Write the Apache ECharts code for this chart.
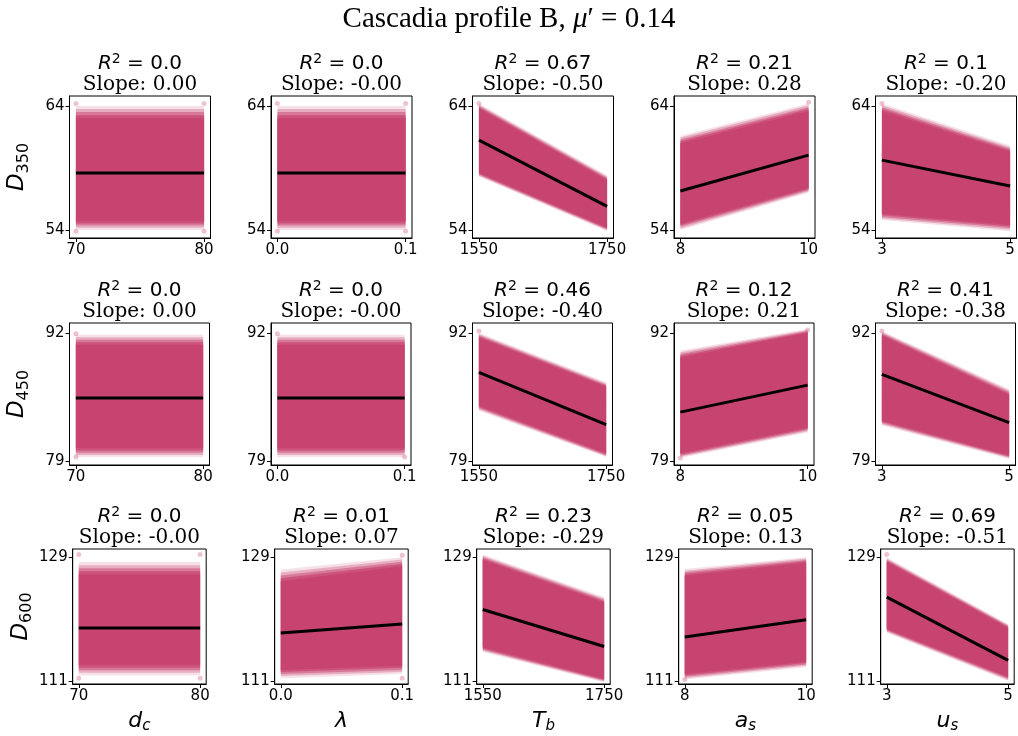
<!DOCTYPE html>
<html>
<head>
<meta charset="utf-8">
<script src="https://cdn.jsdelivr.net/npm/echarts@6/dist/echarts.min.js"></script>
<style>html,body{margin:0;padding:0;background:#fff}#c{width:1018px;height:736px}</style>
</head>
<body>
<div id="c"></div>
<script>
// ---------------- data ----------------
const suptitle = 'Cascadia profile B, ';
const rowNames = ['350', '450', '600'];               // D subscripts
const colNames = ['d', 'λ', 'T', 'a', 'u'];           // x variable symbols
const colSubs  = ['c', '', 'b', 's', 's'];
const xTicks = [[70, 80], [0, 0.1], [1550, 1750], [8, 10], [3, 5]];
const xTickLabels = [['70', '80'], ['0.0', '0.1'], ['1550', '1750'], ['8', '10'], ['3', '5']];
const yTicks = [[54, 64], [79, 92], [111, 129]];
const yRanges = [[53.35, 64.8], [78.6, 93.0], [110.55, 130.2]];
const r2Values = [
  ['0.0', '0.0', '0.67', '0.21', '0.1'],
  ['0.0', '0.0', '0.46', '0.12', '0.41'],
  ['0.0', '0.01', '0.23', '0.05', '0.69']
];
const slopeValues = [
  ['0.00', '-0.00', '-0.50', '0.28', '-0.20'],
  ['0.00', '-0.00', '-0.40', '0.21', '-0.38'],
  ['-0.00', '0.07', '-0.29', '0.13', '-0.51']
];
// regression line: y at x-min, y at x-max
const fitLines = [
  [[58.6, 58.6], [58.6, 58.6], [61.24, 55.9], [57.14, 60.03], [59.63, 57.54]],
  [[85.4, 85.4], [85.4, 85.4], [88.0, 82.7], [83.96, 86.7], [87.8, 82.9]],
  [[118.7, 118.7], [117.96, 119.3], [121.4, 116.0], [117.4, 119.9], [123.2, 114.0]]
];
// dense cloud: solid upper edge, solid lower edge (y at x-min, y at x-max)
const denseUpper = [
  [[63.0, 63.0], [63.0, 63.0], [63.8, 58.0], [61.0, 63.6], [63.6, 60.3]],
  [[90.8, 90.8], [90.8, 90.8], [91.5, 86.5], [89.5, 92.0], [91.7, 85.7]],
  [[126.5, 126.5], [125.5, 127.7], [128.6, 122.4], [126.3, 128.2], [128.3, 118.7]]
];
const denseLower = [
  [[54.7, 54.7], [54.7, 54.7], [58.6, 54.2], [54.5, 57.4], [55.3, 54.4]],
  [[80.3, 80.3], [80.3, 80.3], [84.6, 79.8], [79.8, 82.4], [83.1, 79.6]],
  [[113.3, 113.3], [112.6, 113.2], [115.9, 111.3], [112.0, 113.8], [118.6, 111.6]]
];
// sparse outer edge of the cloud
const sparseUpper = [
  [[64.0, 64.0], [64.0, 64.0], [64.2, 58.4], [61.6, 64.2], [64.2, 60.8]],
  [[91.8, 91.8], [91.8, 91.8], [92.0, 87.0], [90.2, 92.4], [92.2, 86.3]],
  [[128.3, 128.3], [127.2, 129.0], [129.4, 123.2], [127.3, 129.0], [129.0, 119.3]]
];
const sparseLower = [
  [[54.0, 54.0], [54.0, 54.0], [58.3, 53.9], [54.0, 57.0], [54.8, 53.9]],
  [[79.4, 79.4], [79.4, 79.4], [84.1, 79.4], [79.3, 81.9], [82.6, 79.2]],
  [[111.8, 111.8], [111.4, 112.0], [115.2, 110.8], [111.2, 113.0], [118.0, 111.0]]
];
// isolated extreme points visible at the cloud corners
const outlierPoints = [
  [[[70, 64.2], [80, 64.2], [70, 53.9], [80, 53.9]], [[0, 64.2], [0.1, 64.2], [0, 53.9], [0.1, 53.9]], [[1550, 64.2]], [[10, 64.3]], [[3, 64.2]]],
  [[[70, 91.9], [70, 79.4]], [[0, 91.9], [0.1, 79.4]], [[1550, 92.2]], [[8, 79.3], [10, 92.3]], [[3, 92.2]]],
  [[[70, 129.4], [80, 129.4], [70, 111.4], [80, 111.4]], [[0.1, 129.3], [0.1, 111.4]], [], [[8, 111.2]], [[3, 129.4]]]
];

// ---------------- layout / style ----------------
const rowTop = [96, 323, 549];
const rowH = [142, 142, 135];
const rowLeft = [69.5, 69.5, 72.7];
const rowStep = [201.5, 201.5, 202];
const rowW = [141, 140, 133.5];
const CLOUD = 'rgb(200,68,112)';
const tickFont = 'DejaVu Sans';
const fadeAlphas = [0.16, 0.32, 0.5, 0.72];   // style of the fading cloud edge

const grids = [], xAxes = [], yAxes = [], series = [], graphics = [];
let gi = 0;
for (let r = 0; r < 3; r++) {
  for (let c = 0; c < 5; c++) {
    const left = rowLeft[r] + c * rowStep[r];
    const top = rowTop[r];
    const w = rowW[r], h = rowH[r];
    grids.push({ left: left, top: top, width: w, height: h, show: true, borderColor: '#000', borderWidth: 1, backgroundColor: 'transparent' });
    const xt = xTicks[c];
    const span = xt[1] - xt[0];
    xAxes.push({
      type: 'value', gridIndex: gi, min: xt[0] - 0.05 * span, max: xt[1] + 0.05 * span,
      splitLine: { show: false },
      axisLine: { show: true, onZero: false, lineStyle: { color: '#000', width: 1 } },
      axisTick: { show: true, customValues: xt, length: 4, lineStyle: { color: '#000' } },
      axisLabel: {
        show: true, customValues: xt, color: '#000', fontFamily: tickFont, fontSize: 15, margin: 5,
        formatter: (v) => { const i = xt.indexOf(v); return i >= 0 ? xTickLabels[c][i] : ''; }
      },
      name: r === 2 ? ('{v|' + colNames[c] + '}' + (colSubs[c] ? '{s|' + colSubs[c] + '}' : '')) : '',
      nameLocation: 'middle', nameGap: 24,
      nameTextStyle: {
        rich: {
          v: { fontFamily: 'DejaVu Sans', fontStyle: 'italic', fontSize: 22, lineHeight: 26, color: '#000', verticalAlign: 'middle' },
          s: { fontFamily: 'DejaVu Sans', fontStyle: 'italic', fontSize: 15, lineHeight: 16, color: '#000', verticalAlign: 'bottom' }
        }
      }
    });
    const yt = yTicks[r];
    yAxes.push({
      type: 'value', gridIndex: gi, min: yRanges[r][0], max: yRanges[r][1],
      splitLine: { show: false },
      axisLine: { show: true, onZero: false, lineStyle: { color: '#000', width: 1 } },
      axisTick: { show: true, customValues: yt, length: 4, lineStyle: { color: '#000' } },
      axisLabel: { show: true, customValues: yt, color: '#000', fontFamily: tickFont, fontSize: 15, margin: 5, formatter: (v) => String(v) },
      name: c === 0 ? ('{v|D}{s|' + rowNames[r] + '}') : '',
      nameLocation: 'middle', nameGap: 38, nameRotate: 90,
      nameTextStyle: {
        rich: {
          v: { fontFamily: 'DejaVu Sans', fontStyle: 'italic', fontSize: 23, lineHeight: 28, color: '#000', verticalAlign: 'middle' },
          s: { fontFamily: 'DejaVu Sans', fontSize: 16, lineHeight: 18, color: '#000', verticalAlign: 'bottom' }
        }
      }
    });
    // cloud polygons
    const du = denseUpper[r][c], dl = denseLower[r][c], su = sparseUpper[r][c], sl = sparseLower[r][c];
    series.push({
      type: 'custom', xAxisIndex: gi, yAxisIndex: gi, clip: true, silent: true, z: 1,
      data: [[xt[0], xt[1], su[0], su[1], du[0], du[1], dl[0], dl[1], sl[0], sl[1]]],
      encode: { x: [0, 1], y: [2, 3, 4, 5, 6, 7, 8, 9] },
      renderItem: function (params, api) {
        const x0 = api.value(0), x1 = api.value(1);
        const p = (x, yi) => api.coord([x, api.value(yi)]);
        const outer = [p(x0, 2), p(x1, 3), p(x1, 9), p(x0, 8)];
        const inner = [p(x0, 4), p(x1, 5), p(x1, 7), p(x0, 6)];
        const children = [];
        const n = fadeAlphas.length;
        for (let k = 0; k < n; k++) {
          const t = k / n;
          const pts = outer.map((o, j) => [o[0], o[1] + (inner[j][1] - o[1]) * t]);
          children.push({ type: 'polygon', shape: { points: pts }, style: { fill: 'rgba(200,68,112,' + fadeAlphas[k] + ')' } });
        }
        children.push({ type: 'polygon', shape: { points: inner }, style: { fill: CLOUD } });
        return { type: 'group', children: children };
      }
    });
    series.push({
      type: 'scatter', xAxisIndex: gi, yAxisIndex: gi, symbolSize: 5, silent: true, z: 2,
      itemStyle: { color: 'rgba(200,68,112,0.4)' },
      data: outlierPoints[r][c]
    });
    const fl = fitLines[r][c];
    series.push({
      type: 'line', xAxisIndex: gi, yAxisIndex: gi, showSymbol: false, silent: true, z: 3,
      lineStyle: { color: '#000', width: 3 },
      data: [[xt[0], fl[0]], [xt[1], fl[1]]]
    });
    // titles
    const cx = left + w / 2;
    graphics.push({
      type: 'text', x: cx, y: top - 32,
      style: {
        text: '{r|R}{s|2}{n| = ' + r2Values[r][c] + '}',
        align: 'center', verticalAlign: 'middle',
        rich: {
          r: { fontFamily: 'DejaVu Sans', fontStyle: 'italic', fontSize: 20, lineHeight: 24, fill: '#000', verticalAlign: 'middle' },
          s: { fontFamily: 'DejaVu Sans', fontSize: 14, lineHeight: 14, fill: '#000', verticalAlign: 'top' },
          n: { fontFamily: 'DejaVu Sans', fontSize: 20, lineHeight: 24, fill: '#000', verticalAlign: 'middle' }
        }
      }
    });
    graphics.push({
      type: 'text', x: cx, y: top - 11,
      style: { text: 'Slope: ' + slopeValues[r][c], align: 'center', verticalAlign: 'middle', font: '20px "DejaVu Serif"', fill: '#000' }
    });
    gi++;
  }
}
graphics.push({
  type: 'text', x: 509, y: 19,
  style: {
    text: '{t|' + suptitle + '}{m|μ}{t|′ = 0.14}', align: 'center', verticalAlign: 'middle',
    rich: {
      t: { fontFamily: 'Liberation Serif', fontSize: 29, fill: '#000' },
      m: { fontFamily: 'Liberation Serif', fontStyle: 'italic', fontSize: 29, fill: '#000' }
    }
  }
});

const chart = echarts.init(document.getElementById('c'), null, { renderer: 'canvas' });
chart.setOption({
  animation: false,
  backgroundColor: '#fff',
  grid: grids, xAxis: xAxes, yAxis: yAxes, series: series, graphic: graphics
});
</script>
</body>
</html>
